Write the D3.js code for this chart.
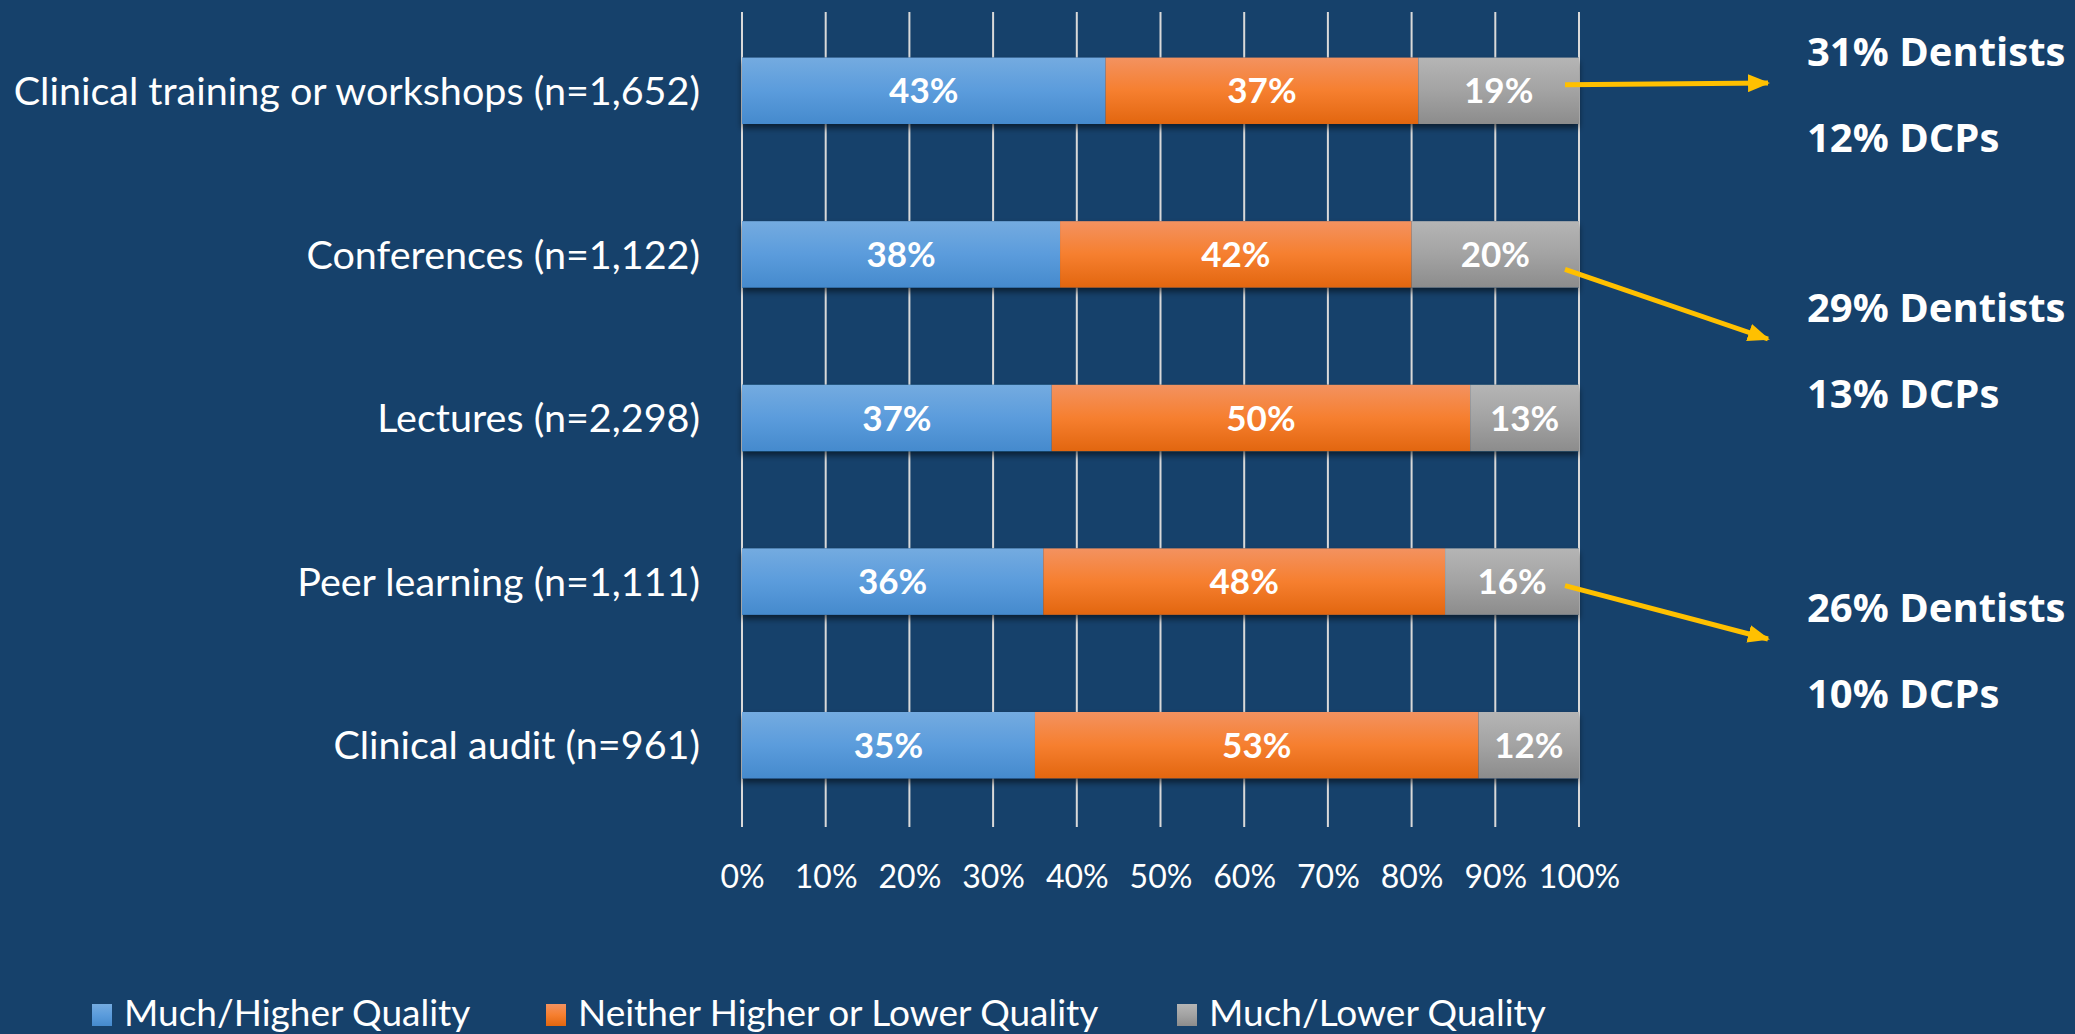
<!DOCTYPE html>
<html>
<head>
<meta charset="utf-8">
<script src="https://cdn.jsdelivr.net/npm/d3@7"></script>
<style>
  html, body { margin: 0; padding: 0; background: #16416b; overflow: hidden; }
  svg { display: block; }
</style>
</head>
<body>
<div id="chart"></div>
<script>
// chart values
var categories = [
    "Clinical training or workshops (n=1,652)",
    "Conferences (n=1,122)",
    "Lectures (n=2,298)",
    "Peer learning (n=1,111)",
    "Clinical audit (n=961)"
];
var seriesNames = ["Much/Higher Quality", "Neither Higher or Lower Quality", "Much/Lower Quality"];
var higher = [43, 38, 37, 36, 35];
var neither = [37, 42, 50, 48, 53];
var lower = [19, 20, 13, 16, 12];
var xTicks = [0, 0.1, 0.2, 0.3, 0.4, 0.5, 0.6, 0.7, 0.8, 0.9, 1];

// side notes (which bar they point from, and the split by group)
var noteRows = [0, 1, 3];
var noteDentists = [31, 29, 26];
var noteDCPs = [12, 13, 10];

const W = 2075, H = 1034;
const margin = {top: 9, right: 496, bottom: 207, left: 742};
const width = W - margin.left - margin.right,
      height = H - margin.top - margin.bottom;

const keys = ["higher", "neither", "lower"];
const table = categories.map(function (c, i) {
    return {cat: c, higher: higher[i], neither: neither[i], lower: lower[i]};
});
const stacked = d3.stack().keys(keys).offset(d3.stackOffsetExpand)(table);

const svg = d3.select("#chart").append("svg")
    .attr("width", W)
    .attr("height", H);

// gradients + shadow, like the office-style bars
const defs = svg.append("defs");
const gradStops = {
    higher: ["#74abe0", "#5b9cdc", "#458acd"],
    neither: ["#f39260", "#f67f2f", "#e2660f"],
    lower: ["#b5b5b5", "#a3a3a3", "#8c8c8c"]
};
keys.forEach(function (k) {
    const g = defs.append("linearGradient")
        .attr("id", "grad-" + k)
        .attr("x1", 0).attr("y1", 0).attr("x2", 0).attr("y2", 1);
    g.append("stop").attr("offset", "0%").attr("stop-color", gradStops[k][0]);
    g.append("stop").attr("offset", "50%").attr("stop-color", gradStops[k][1]);
    g.append("stop").attr("offset", "100%").attr("stop-color", gradStops[k][2]);
});
const shadow = defs.append("filter").attr("id", "shadow")
    .attr("x", "-5%").attr("y", "-20%").attr("width", "110%").attr("height", "160%");
shadow.append("feDropShadow")
    .attr("dx", 0).attr("dy", 4).attr("stdDeviation", 3)
    .attr("flood-color", "#000").attr("flood-opacity", 0.55);

defs.append("marker")
    .attr("id", "arrowhead")
    .attr("markerUnits", "userSpaceOnUse")
    .attr("markerWidth", 22).attr("markerHeight", 18)
    .attr("refX", 20).attr("refY", 9)
    .attr("orient", "auto")
    .append("path")
    .attr("d", "M0,0 L22,9 L0,18 Z")
    .attr("fill", "#ffc000");

const g = svg.append("g")
    .attr("transform", `translate(${margin.left},${margin.top})`);

const x = d3.scaleLinear().domain([0, 1]).range([0, width]);
const y = d3.scaleBand()
    .domain(categories)
    .range([0, height])
    .paddingInner(0.594)
    .paddingOuter(0.297);

// vertical gridlines
g.append("g")
    .selectAll("line")
    .data(xTicks)
    .join("line")
    .attr("x1", d => x(d)).attr("x2", d => x(d))
    .attr("y1", 3).attr("y2", height)
    .attr("stroke", "#d9d9d9")
    .attr("stroke-width", 2);

// x axis labels
const xAxis = g.append("g")
    .attr("transform", `translate(0,${height})`)
    .call(d3.axisBottom(x).tickValues(xTicks).tickFormat(d3.format(".0%")).tickSize(0).tickPadding(38));
xAxis.select(".domain").remove();
xAxis.selectAll("text")
    .attr("fill", "#ffffff")
    .style("font-family", "Lato, 'Open Sans', sans-serif")
    .style("font-size", "32px");

// y axis labels
const yAxis = g.append("g")
    .call(d3.axisLeft(y).tickSize(0).tickPadding(42));
yAxis.select(".domain").remove();
yAxis.selectAll("text")
    .attr("fill", "#ffffff")
    .attr("dy", "0.36em")
    .style("font-family", "Lato, 'Open Sans', sans-serif")
    .style("font-size", "39.5px");

// stacked bars
const barGroup = g.append("g").attr("filter", "url(#shadow)");
barGroup.selectAll("rect")
    .data(categories)
    .join("rect")
    .attr("x", x(0))
    .attr("y", d => y(d))
    .attr("width", x(1) - x(0))
    .attr("height", y.bandwidth())
    .attr("fill", "#16416b");

const layers = g.selectAll(".layer")
    .data(stacked)
    .join("g")
    .attr("class", "layer")
    .attr("fill", d => "url(#grad-" + d.key + ")");

layers.selectAll("rect")
    .data(d => d)
    .join("rect")
    .attr("x", d => x(d[0]))
    .attr("y", d => y(d.data.cat))
    .attr("width", d => x(d[1]) - x(d[0]))
    .attr("height", y.bandwidth());

layers.selectAll("text")
    .data(function (d) { return d.map(function (v) { return {v: v, key: d.key}; }); })
    .join("text")
    .attr("x", d => (x(d.v[0]) + x(d.v[1])) / 2)
    .attr("y", d => y(d.v.data.cat) + y.bandwidth() / 2)
    .attr("dy", "0.36em")
    .attr("text-anchor", "middle")
    .attr("fill", "#ffffff")
    .style("font-family", "Lato, 'Open Sans', sans-serif")
    .style("font-weight", "bold")
    .style("font-size", "35px")
    .text(d => d.v.data[d.key] + "%");

// arrows and side notes
const noteTipY = [74, 330, 630];   // where each arrow lands, in plot coords
const noteStartDy = [-6, 15, 4];   // arrow start relative to bar middle
const noteX = 1807 - margin.left;
const noteTipX = 1768 - margin.left;

noteRows.forEach(function (row, i) {
    const cy = y(categories[row]) + y.bandwidth() / 2;
    g.append("line")
        .attr("x1", x(1) - 14)
        .attr("y1", cy + noteStartDy[i])
        .attr("x2", noteTipX)
        .attr("y2", noteTipY[i])
        .attr("stroke", "#ffc000")
        .attr("stroke-width", 5)
        .attr("marker-end", "url(#arrowhead)");

    g.append("text")
        .attr("x", noteX)
        .attr("y", noteTipY[i] - 17)
        .attr("fill", "#ffffff")
        .style("font-family", "'Open Sans', sans-serif")
        .style("font-weight", "bold")
        .style("font-size", "40px")
        .text(noteDentists[i] + "% Dentists");

    g.append("text")
        .attr("x", noteX)
        .attr("y", noteTipY[i] + 69)
        .attr("fill", "#ffffff")
        .style("font-family", "'Open Sans', sans-serif")
        .style("font-weight", "bold")
        .style("font-size", "40px")
        .text(noteDCPs[i] + "% DCPs");
});

// legend
const legendX = [92, 546, 1177];
const legend = svg.append("g")
    .selectAll("g")
    .data(seriesNames)
    .join("g")
    .attr("transform", (d, i) => `translate(${legendX[i]},1004)`);
legend.append("rect")
    .attr("width", 20)
    .attr("height", 22)
    .attr("fill", (d, i) => "url(#grad-" + keys[i] + ")");
legend.append("text")
    .attr("x", 32)
    .attr("y", 22)
    .attr("fill", "#ffffff")
    .style("font-family", "Lato, 'Open Sans', sans-serif")
    .style("font-size", "37px")
    .text(d => d);
</script>
</body>
</html>
